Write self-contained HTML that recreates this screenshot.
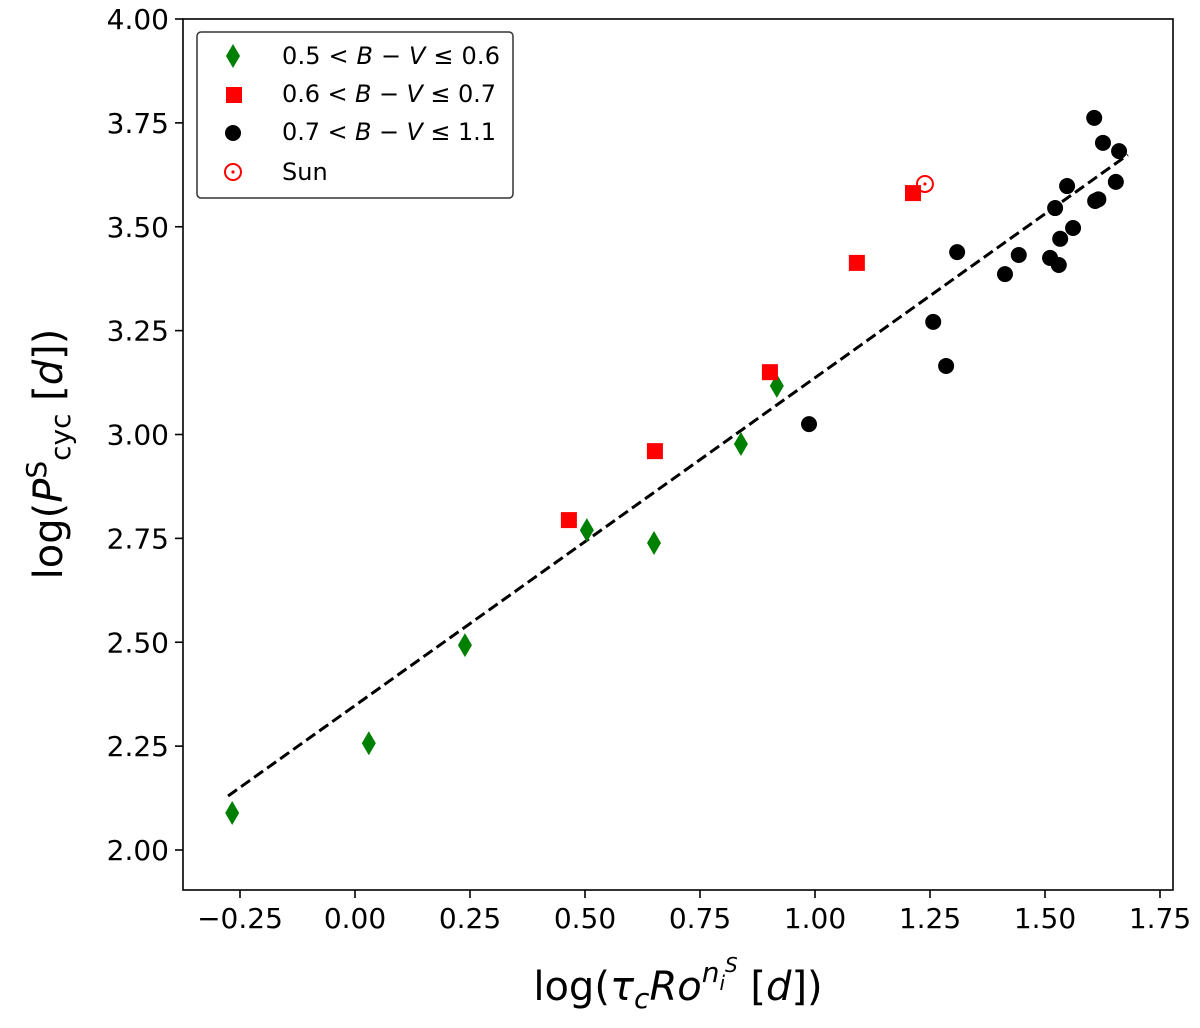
<!DOCTYPE html>
<html><head><meta charset="utf-8"><style>
body{margin:0;background:#fff;}
svg text{font-family:"DejaVu Sans","Liberation Sans",sans-serif;}
</style></head><body>
<svg id="chart" width="1200" height="1023" xmlns="http://www.w3.org/2000/svg"></svg>
<script>
const xTicks=[-0.25,0,0.25,0.5,0.75,1.0,1.25,1.5,1.75];
const xTickLabels=["\u22120.25","0.00","0.25","0.50","0.75","1.00","1.25","1.50","1.75"];
const yTicks=[2.0,2.25,2.5,2.75,3.0,3.25,3.5,3.75,4.0];
const yTickLabels=["2.00","2.25","2.50","2.75","3.00","3.25","3.50","3.75","4.00"];
const greenX=[-0.267,0.030,0.239,0.504,0.650,0.839,0.917];
const greenY=[2.089,2.257,2.493,2.770,2.739,2.977,3.117];
const redX=[0.465,0.652,0.902,1.091,1.213];
const redY=[2.794,2.960,3.150,3.413,3.581];
const blackX=[1.607,1.626,1.661,1.654,1.548,1.522,1.609,1.616,1.533,1.561,1.443,1.511,1.530,1.413,1.309,1.257,1.285,0.987];
const blackY=[3.762,3.702,3.682,3.608,3.598,3.545,3.562,3.566,3.471,3.497,3.432,3.425,3.408,3.386,3.439,3.271,3.165,3.025];
const sunX=[1.239], sunY=[3.603];
const fitX=[-0.276,1.680], fitY=[2.130,3.673];

const NS="http://www.w3.org/2000/svg";
const svg=document.getElementById('chart');
const L=183,R=1173,T=19,B=890;
const sx=v=>355+v*460;
const sy=v=>19+(4-v)*415.5;
function el(t,a,p){const e=document.createElementNS(NS,t);for(const k in a)e.setAttribute(k,a[k]);(p||svg).appendChild(e);return e;}

const frame=el('rect',{x:L,y:T,width:R-L,height:B-T,fill:'none',stroke:'#000','stroke-width':1.6});



xTicks.forEach((v,i)=>{
  const x=sx(v);
  const tk=el('line',{x1:x,x2:x,y1:B,y2:B+8,stroke:'#000','stroke-width':1.6});
  
  
  const t=el('text',{x:x,y:B+38,'font-size':28,'text-anchor':'middle'});t.textContent=xTickLabels[i];
  
  
});
yTicks.forEach((v,i)=>{
  const y=sy(v);
  const tk=el('line',{x1:L-8,x2:L,y1:y,y2:y,stroke:'#000','stroke-width':1.6});
  
  
  const t=el('text',{x:L-14,y:y+10,'font-size':28,'text-anchor':'end'});t.textContent=yTickLabels[i];
  
  
});

const fit=el('line',{x1:sx(fitX[0]),y1:sy(fitY[0]),x2:sx(fitX[1]),y2:sy(fitY[1]),stroke:'#000','stroke-width':3,'stroke-dasharray':'11,5'});



greenX.forEach((v,i)=>{
  const x=sx(v),y=sy(greenY[i]);
  const p=el('polygon',{points:`${x},${y-12} ${x+7},${y} ${x},${y+12} ${x-7},${y}`,fill:'#008000'});
  
  
});
redX.forEach((v,i)=>{
  const x=sx(v),y=sy(redY[i]);
  const p=el('rect',{x:x-8,y:y-8,width:16,height:16,fill:'#ff0000'});
  
  
});
blackX.forEach((v,i)=>{
  const p=el('circle',{cx:sx(v),cy:sy(blackY[i]),r:8,fill:'#000'});
  
  
});
sunX.forEach((v,i)=>{
  const g=el('g',{});
  
  
  el('circle',{cx:sx(v),cy:sy(sunY[i]),r:8,fill:'none',stroke:'#ff0000','stroke-width':2},g);
  el('circle',{cx:sx(v),cy:sy(sunY[i]),r:1.6,fill:'#ff0000'},g);
});

// legend
const lg=el('g',{});


el('rect',{x:197,y:32,width:316,height:166,rx:4,fill:'#fff',stroke:'#333','stroke-width':1.5},lg);
el('polygon',{points:'233,44 240,56 233,68 226,56',fill:'#008000'},lg);
el('rect',{x:226,y:87,width:16,height:16,fill:'#ff0000'},lg);
el('circle',{cx:233,cy:133,r:8,fill:'#000'},lg);
el('circle',{cx:233,cy:172,r:8,fill:'none',stroke:'#ff0000','stroke-width':2},lg);
el('circle',{cx:233,cy:172,r:1.6,fill:'#ff0000'},lg);
const labs=[['0.5','0.6',218],['0.6','0.7',214],['0.7','1.1',214]];
labs.forEach((l,i)=>{
  const t=el('text',{x:282,y:64+i*38,'font-size':24,textLength:l[2],lengthAdjust:'spacing'},lg);
  t.innerHTML=`${l[0]} &lt; <tspan font-style="italic">B</tspan> \u2212 <tspan font-style="italic">V</tspan> \u2264 ${l[1]}`;
  
  
});
const st=el('text',{x:282,y:180,'font-size':24},lg);st.textContent='Sun';



const xl=el('text',{x:678,y:1000,'font-size':40,'text-anchor':'middle'});
xl.innerHTML='log(<tspan font-style="italic">τ</tspan><tspan font-style="italic" font-size="28" dy="8">c</tspan><tspan font-style="italic" dy="-8">Ro</tspan><tspan font-style="italic" font-size="28" dy="-18">n</tspan><tspan font-style="italic" font-size="20" dy="8">i</tspan><tspan font-style="italic" font-size="20" dy="-18">S</tspan><tspan dy="28"> [</tspan><tspan font-style="italic">d</tspan>])';


const yl=el('text',{x:0,y:0,'font-size':40,'text-anchor':'middle',transform:'translate(62,454) rotate(-90)'});
yl.innerHTML='log(<tspan font-style="italic">P</tspan><tspan font-size="28" dy="-16">S</tspan><tspan font-size="28" dy="24">cyc</tspan><tspan dy="-8"> [</tspan><tspan font-style="italic">d</tspan>])';


</script>
</body></html>
